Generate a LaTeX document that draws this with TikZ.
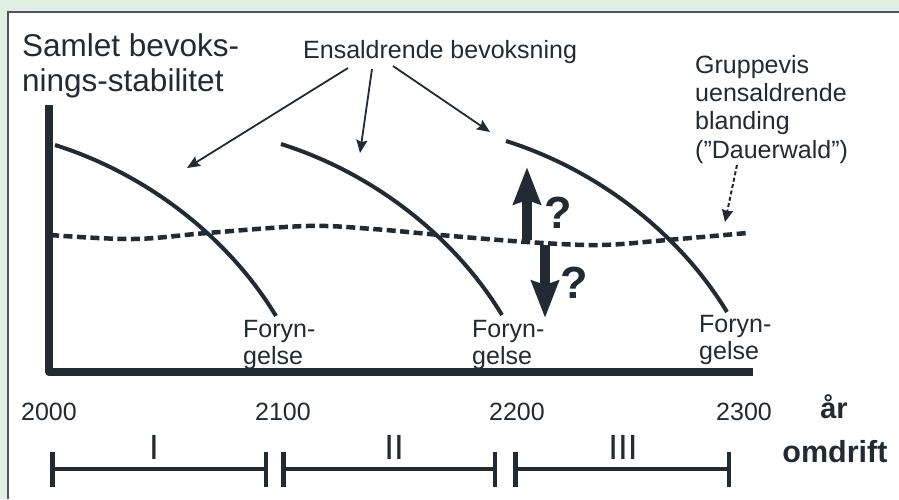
\documentclass[tikz,border=0pt]{standalone}
\usepackage{fontspec}
\setmainfont{Liberation Sans}
\usetikzlibrary{arrows.meta}
\definecolor{ink}{HTML}{222A33}
\definecolor{greenbg}{HTML}{E1F0E5}

\begin{document}
\begin{tikzpicture}[
        x=1pt, y=-1pt,
        every node/.style={inner sep=0pt, text=ink},
        txt/.style={font=\fontsize{25}{27.5}\selectfont},
        stand/.style={draw=ink, line width=4pt},
        axisline/.style={draw=ink, line width=8pt, line join=round},
        pointer/.style={draw=ink, line width=1.8pt, -{Stealth[length=13pt, width=11pt, inset=2pt]}},
        bigarrow/.style={draw=ink, line width=10pt, -{Stealth[length=37pt, width=27pt, inset=4pt]}},
        period/.style={draw=ink, line width=3.5pt, {Bar[width=35pt, line width=4.5pt]}-{Bar[width=35pt, line width=4.5pt]}}
      ]
      \useasboundingbox (0,0) rectangle (899,499);
      \fill[greenbg] (0,0) rectangle (899,499);
      \fill[white] (8,12) rectangle (899,499);
      \draw[ink!80, line width=1.3pt] (8,499) -- (8,12) -- (899,12);

      % texts
      \node (title) [anchor=north west, align=left, font=\fontsize{31.5}{35}\selectfont] at (22,33)
        {Samlet bevoks-\\nings-stabilitet};
      \node (ens) [txt, anchor=north west] at (303,40) {Ensaldrende bevoksning};
      \node (grp) [txt, anchor=north west, align=left, font=\fontsize{25}{28.3}\selectfont] at (695,55)
        {Gruppevis\\uensaldrende\\blanding\\(”Dauerwald”)};
      \node (f1) [txt, anchor=north west, align=left] at (243,320) {Foryn-\\gelse};
      \node (f2) [txt, anchor=north west, align=left] at (472,320) {Foryn-\\gelse};
      \node (f3) [txt, anchor=north west, align=left] at (699,315) {Foryn-\\gelse};

      % axes
      \draw[axisline] (49,105) -- (49,372) -- (753,372);

      % stands
      \foreach \dx/\dy in {0/0, 226/-1, 451/-4} {
        \draw[stand, shift={(\dx,\dy)}] (55,145) .. controls (150,175) and (230,240) .. (276,316);
      }

      % mixed stand
      \draw[ink, line width=4.5pt, dash pattern=on 9pt off 4.5pt] plot[smooth, tension=0.6] coordinates
        {(50,235) (133,239) (207,233) (307,226) (373,229) (440,235) (527,242) (600,245) (667,240) (747,233)};

      % pointers
      \coordinate (e1) at (348,68);
      \coordinate (e2) at (372,69);
      \coordinate (e3) at (393,66);
      \coordinate (c1) at (187,168);
      \coordinate (c2) at (360,153);
      \coordinate (c3) at (490,132);
      \draw[pointer] (e1) -- (c1);
      \draw[pointer] (e2) -- (c2);
      \draw[pointer] (e3) -- (c3);
      \coordinate (g1) at (737,165);
      \coordinate (g2) at (725,222);
      \draw[ink, line width=2pt, dash pattern=on 4pt off 2.5pt, -{Stealth[length=12pt, width=11pt, inset=1pt]}] (g1) -- (g2);

      % up or down?
      \coordinate (u1) at (527,240);
      \coordinate (u2) at (527,167);
      \coordinate (d1) at (545,245);
      \coordinate (d2) at (545,318);
      \draw[bigarrow] (u1) -- (u2);
      \draw[bigarrow] (d1) -- (d2);
      \node (q1) [anchor=base, font=\fontsize{45}{45}\selectfont\bfseries] at (558,228) {?};
      \node (q2) [anchor=base, font=\fontsize{45}{45}\selectfont\bfseries] at (574,298) {?};

      % years
      \foreach \x/\yr in {49/2000, 283/2100, 517/2200, 744/2300} {
        \node (y\yr) [txt, anchor=base] at (\x,420) {\yr};
      }
      \node (aar) [anchor=base, font=\fontsize{29}{29}\selectfont\bfseries] at (834,418) {år};
      \node (omd) [anchor=base, font=\fontsize{30.5}{30.5}\selectfont\bfseries] at (835,462) {omdrift};

      % rotations
      \foreach \a/\b/\m/\r in {50/268/154/I, 281/497/394/II, 513/731/623/III} {
        \coordinate (p\r a) at (\a,469);
        \coordinate (p\r b) at (\b,469);
        \draw[period] (p\r a) -- (p\r b);
        \node (n\r) [anchor=base, font=\fontsize{35}{35}\selectfont] at (\m,459) {\r};
      }
    \end{tikzpicture}
\end{document}
